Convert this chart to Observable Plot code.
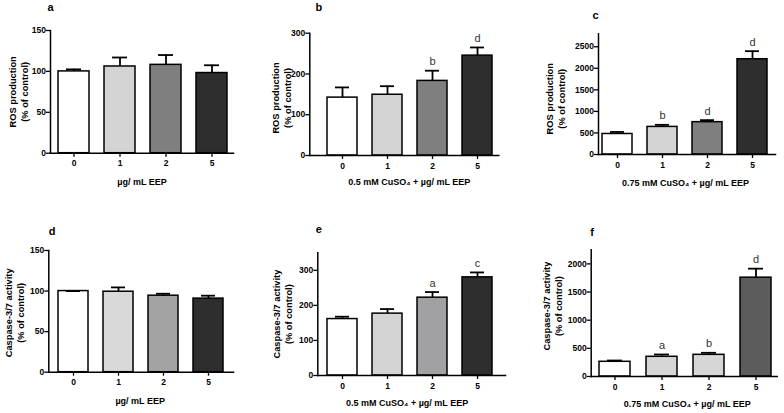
<!DOCTYPE html>
<html><head><meta charset="utf-8">
<script src="https://cdn.jsdelivr.net/npm/d3@7"></script>
<script src="https://cdn.jsdelivr.net/npm/@observablehq/plot@0.6"></script>
<style>
body{margin:0;background:#fff;}
#root{position:relative;width:784px;height:413px;overflow:hidden;background:#fff;font-family:"Liberation Sans",Arial,sans-serif;}
.panel{position:absolute;}
</style></head><body><div id="root"></div>
<script>
// ---- data ----
const doses = ["0", "1", "2", "5"];

const rosA = [100, 106, 108, 98];
const rosAErr = [2.5, 11, 12, 9.5];
const rosALetters = ["", "", "", ""];

const rosB = [142, 149, 183, 245];
const rosBErr = [25, 21, 25, 20];
const rosBLetters = ["", "", "b", "d"];

const rosC = [476, 640, 750, 2210];
const rosCErr = [47, 48, 47, 187];
const rosCLetters = ["", "b", "d", "d"];

const casD = [100, 99.2, 94.3, 90.7];
const casDErr = [0, 5.3, 2.4, 3.6];
const casDLetters = ["", "", "", ""];

const casE = [161, 176.5, 222, 280];
const casEErr = [6.7, 13, 16, 14];
const casELetters = ["", "", "a", "c"];

const casF = [261, 350, 385, 1755];
const casFErr = [23, 41, 36, 160];
const casFLetters = ["", "a", "b", "d"];

const ticks150 = [0, 50, 100, 150];
const ticks300 = [0, 100, 200, 300];
const ticks2500 = [0, 500, 1000, 1500, 2000, 2500];
const ticks2000 = [0, 500, 1000, 1500, 2000];

const rosLabel = "ROS production\n(% of control)";
const casLabel = "Caspase-3/7 activity\n(% of control)";
const xLabel0 = "µg/ mL EEP";
const xLabel05 = "0.5 mM CuSO₄ + µg/ mL EEP";
const xLabel075 = "0.75 mM CuSO₄ + µg/ mL EEP";

// ---- styles ----
const palDark = ["#ffffff", "#d4d4d4", "#7f7f7f", "#2e2e2e"];
const palD = ["#ffffff", "#d9d9d9", "#a3a3a3", "#2e2e2e"];
const palE = ["#ffffff", "#d4d4d4", "#a1a1a3", "#2e2e2e"];
const palF = ["#ffffff", "#d6d6d6", "#d6d6d6", "#5c5c5c"];

const panels = [
  {letter:"a", v:rosA, e:rosAErr, l:rosALetters, yl:rosLabel, xl:xLabel0, ticks:ticks150, ymax:150, pal:palDark,
   box:[0,0,260,200], m:[50,27,30,47.3], band:[0.327,0.149,0.6], yOff:[-32.5,0], xOff:[0,29], lOff:[0,-22.7]},
  {letter:"b", v:rosB, e:rosBErr, l:rosBLetters, yl:rosLabel, xl:xLabel05, ticks:ticks300, ymax:300, pal:palDark,
   box:[260,0,260,200], m:[49.3,21.7,32.7,45], band:[0.323,0.225,0.76], yOff:[-28.5,3.6], xOff:[5,26.7], lOff:[9,-25.4]},
  {letter:"c", v:rosC, e:rosCErr, l:rosCLetters, yl:rosLabel, xl:xLabel075, ticks:ticks2500, ymax:2800, pal:palDark,
   box:[520,0,264,200], m:[78,9,33.3,46], band:[0.33,0.115,0.34], yOff:[-43,4.6], xOff:[-1.5,28.7], lOff:[-3,-18.3]},
  {letter:"d", v:casD, e:casDErr, l:casDLetters, yl:casLabel, xl:xLabel0, ticks:ticks150, ymax:150, pal:palD,
   box:[0,200,260,213], m:[48.3,27,50,41.3], band:[0.325,0.19,0.48], yOff:[-34.6,1.5], xOff:[-1,29], lOff:[3.4,-19.3]},
  {letter:"e", v:casE, e:casEErr, l:casELetters, yl:casLabel, xl:xLabel05, ticks:ticks300, ymax:350, pal:palE,
   box:[260,200,260,213], m:[57.3,15,52.3,38], band:[0.325,0.207,0.44], yOff:[-36,0], xOff:[-4.5,27.7], lOff:[1,-23]},
  {letter:"f", v:casF, e:casFErr, l:casFLetters, yl:casLabel, xl:xLabel075, ticks:ticks2000, ymax:2250, pal:palF,
   box:[520,200,264,213], m:[70.7,7.3,49.3,37], band:[0.35,0.13,0.56], yOff:[-39,-7], xOff:[3,27.3], lOff:[1,-17.6]}
];

const root = document.getElementById("root");
const FONT = '"Liberation Sans", Arial, sans-serif';

for (const p of panels) {
  const data = doses.map((d, i) => ({dose: d, mean: p.v[i], top: p.v[i] + p.e[i], letter: p.l[i], color: p.pal[i]}));
  const svg = Plot.plot({
    width: p.box[2], height: p.box[3],
    marginLeft: p.m[0], marginRight: p.m[1], marginTop: p.m[2], marginBottom: p.m[3],
    style: {fontFamily: FONT, fontSize: "9px", fontWeight: "bold", color: "#000", background: "transparent", overflow: "visible"},
    x: {domain: doses, paddingInner: p.band[0], paddingOuter: p.band[1], align: p.band[2]},
    y: {domain: [0, p.ymax]},
    color: {type: "identity"},
    marks: [
      Plot.barY(data, {x: "dose", y: "mean", fill: "color", stroke: "#000", strokeWidth: 1.5}),
      Plot.ruleX(data, {x: "dose", y1: "mean", y2: "top", stroke: "#000", strokeWidth: 1.8}),
      Plot.tickY(data, {x: "dose", y: "top", stroke: "#000", strokeWidth: 1.8, insetLeft: 8, insetRight: 8}),
      Plot.text(data.filter(d => d.letter), {x: "dose", y: "top", text: "letter", dy: -9, fontSize: 11, fontWeight: "normal", fill: "#333"}),
      Plot.axisY({ticks: p.ticks, tickSize: 4, tickPadding: 0.5, label: null, tickFormat: "d", strokeWidth: 1.3, fontSize: 8.5}),
      Plot.axisX({tickSize: 4, tickPadding: 3, label: null, strokeWidth: 1.3, fontSize: 8.5}),
      Plot.frame({anchor: "left", stroke: "#000", strokeWidth: 1.5}),
      Plot.frame({anchor: "bottom", stroke: "#000", strokeWidth: 1.5}),
      Plot.text([p.yl], {text: d => d, frameAnchor: "left", textAnchor: "middle", lineAnchor: "middle", rotate: -90,
        dx: p.yOff[0], dy: p.yOff[1], fontSize: 9.3, lineHeight: 1.3, fill: "#000"}),
      Plot.text([p.xl], {text: d => d, frameAnchor: "bottom", textAnchor: "middle", lineAnchor: "middle",
        dx: p.xOff[0], dy: p.xOff[1], fontSize: 9, fill: "#000"}),
      Plot.text([p.letter], {text: d => d, frameAnchor: "top-left", textAnchor: "middle", lineAnchor: "middle",
        dx: p.lOff[0], dy: p.lOff[1], fontSize: 11, fill: "#000"})
    ]
  });
  svg.classList.add("panel");
  svg.style.left = p.box[0] + "px";
  svg.style.top = p.box[1] + "px";
  root.appendChild(svg);
}
</script>
</body></html>
